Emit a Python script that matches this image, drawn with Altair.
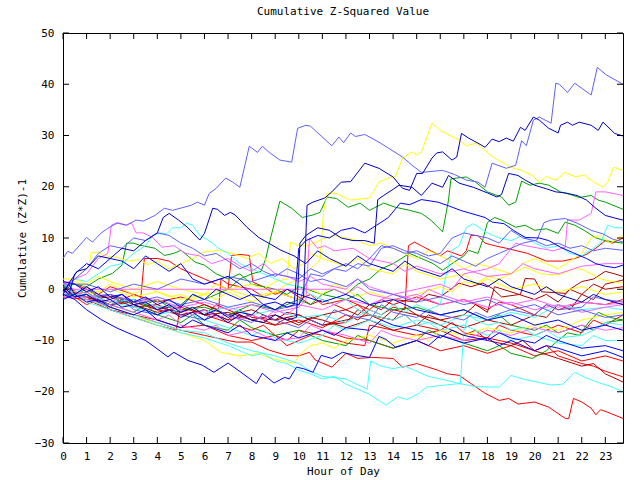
import altair as alt
import pandas as pd

# ---------------- data (hour, cumulative value) -------------
A = [(0,6),(0.2,7.4),(0.4,7),(1.0,10.1),(1.25,9.2),(1.6,10.9),(1.9,11.9),(2.3,12.9),(2.7,12.5),(3.1,13.5),(3.4,13.3),
     (3.9,14.4),(4.3,15.8),(4.65,15.4),(5.45,16.4),(5.7,17),(6.0,16.4),(6.2,18.7),(6.5,19.7),(6.9,21.7),(7.2,20.9),
     (7.5,19.9),(7.9,27.9),(8.25,26.7),(8.45,27.9),(8.75,26.7),(9.2,25.2),(9.7,24.8),(9.95,31.4),(10.3,32),(10.5,31.8),
     (11.4,28),(11.7,29.7),(11.9,28.6),(12.2,30.5),(12.4,29.8),(12.8,30.2),(13.4,28.7),(14.4,25.8),(14.8,24.2),
     (15.2,22.8),(16.1,23.2),(16.6,22.4),(17.1,21.3),(17.6,20.9),(17.9,19.9),(18.2,24.6),(18.8,23.6),(19.2,24.2),
     (19.45,29),(19.65,28),(19.95,33),(20.2,33.6),(20.7,32.4),(20.9,40.2),(21.05,40),(21.4,38.4),(21.7,40.2),
     (22.4,37.9),(22.66,43.3),(23.05,41.8),(23.75,40)]
B = [(0,-0.5),(0.25,1),(0.5,-1),(1,0.5),(1.5,-1),(2,-2),(2.5,-1),(3,-3),(3.5,-2.5),(4,-4),(4.5,-3),(5,-4.5),(5.5,-3.5),
     (6,-5),(6.5,-4),(7,-5.5),(7.5,-4.5),(8,-5),(8.5,-3),(9,-4),(9.5,-2.5),(10,-3),(10.2,-1.6),(10.35,16.4),(10.6,17),
     (11.1,17.8),(11.4,19),(11.8,20.9),(12.2,21),(12.8,24.6),(13.4,23.6),(14,21.9),(14.4,19.7),(14.7,19.3),(15,22.6),
     (15.25,22.6),(15.65,25.6),(15.85,26.6),(16.1,26.8),(16.5,25.2),(16.7,25.8),(16.9,30.4),(17.2,29.5),(17.6,28.5),
     (17.9,27.7),(18.2,29.3),(18.5,28.8),(18.8,29.5),(19.1,28.9),(19.4,31.6),(19.6,31),(19.95,33.6),(20.2,33),
     (20.6,31.4),(21.0,30.5),(21.1,32),(21.4,32.6),(21.6,32),(21.9,32.6),(22.4,32),(22.7,31),(22.9,32.6),(23.4,30.4),
     (23.75,29.9)]
C = [(0,1),(0.5,1.5),(1,0.5),(1.5,-0.5),(2,1),(2.5,0),(3,-1),(3.5,0.5),(4,-0.5),(4.5,-1.5),(5,-1),(5.5,-2),(6,-1),
     (6.5,-2),(7,-0.5),(7.5,-1.5),(8,-2.5),(8.5,-1.5),(9,-0.5),(9.5,1),(10,2),(10.5,4),(10.9,5.7),(11.05,15),
     (11.2,18.7),(11.6,18.7),(12.2,17.4),(13.0,17.8),(13.4,20.9),(13.8,21.7),(14.1,22),(14.4,25.6),(14.8,26.8),
     (15.0,26.2),(15.2,26.8),(15.65,32.4),(16.0,31),(16.85,29),(17.1,28),(17.5,28.5),(18.3,25.6),(19.0,23.8),
     (19.45,23.2),(19.9,22.2),(20.2,20.9),(20.5,22),(20.9,21.3),(21.3,22.8),(21.7,22),(22.1,22.2),(22.6,20.7),
     (22.9,19.9),(23.1,20.9),(23.35,23.8),(23.75,23.2)]
D = [(0,-1),(0.5,-1),(1,0),(1.5,-1.5),(2,-1),(2.5,-2.5),(3,-2),(3.5,-3),(4,-2),(4.5,-3.5),(5,-3),(5.5,-1),(6,-2),
     (6.5,-1),(7,0),(7.5,2),(8,3),(8.4,3.5),(8.6,6),(8.75,9),(9.2,17.2),(9.7,15.8),(10.15,14),(10.6,14.5),(10.9,15),
     (11.2,18),(11.6,17.7),(12.1,16),(12.6,16.8),(13,15.4),(13.6,16.8),(14.1,16),(14.7,15.4),(15.2,14.8),(15.6,13.5),
     (16.1,11.2),(16.35,17.4),(16.45,21.5),(16.7,21.7),(17.1,21.9),(17.5,20.9),(18.0,19),(18.6,18),(18.9,16.4),
     (19.2,17),(19.45,21.1),(19.8,20.3),(20.2,20.7),(20.6,20.3),(21.1,19),(21.5,18.5),(21.9,17.9),(22.4,18.3),
     (22.7,17.4),(23.0,17),(23.75,15.6)]
E = [(0,-1),(0.3,1.5),(0.6,3.5),(1,4),(1.5,6.5),(2,6),(2.5,8),(3,7.5),(3.5,9.5),(4,11),(4.25,14),(4.5,14.8),
     (4.9,13.5),(5.3,12),(5.8,9.6),(6.0,10.9),(6.35,15.8),(6.55,15.6),(6.85,14.4),(7.1,15),(7.3,14.5),(7.8,12.1),
     (8.3,10.1),(9.25,7.6),(9.8,6.5),(10.3,5),(10.8,7.5),(11.3,6),(12,4.5),(12.5,6.5),(13,5),(14,3.5),(14.5,5.5),
     (15,4),(16,2.5),(16.5,4),(17,2),(18,0.5),(18.5,2),(19,0.5),(20,-1),(20.5,0.5),(21,-1),(22,-2.5),(22.5,-1),
     (23,-2),(23.75,-3)]
F = [(0,0.5),(0.5,-1.5),(1,-1),(1.5,-2.5),(2,-2),(2.5,-3.5),(3,-3),(3.5,-4),(4,-5),(4.5,-4),(5,-5.5),(5.5,-4.5),
     (6,-6),(6.5,-5),(7,-6.5),(7.5,-5),(8,-6),(8.5,-6.5),(9,-5),(9.5,-6),(9.9,-5.5),(10.05,9),(10.3,10.5),(10.8,12),
     (11.3,11.5),(11.8,10),(12.3,9.5),(12.8,9.5),(13.2,9),(13.35,17.5),(13.6,18.3),(14,19.5),(14.25,20.3),(14.8,19.9),
     (15.2,18.3),(15.65,20.7),(16.1,19.9),(16.35,22.2),(16.8,20.7),(17.4,19.9),(18,18.8),(18.4,18),(18.6,18.5),
     (18.9,22.6),(19.3,22.2),(19.6,21.3),(20,20.3),(20.5,19.6),(20.9,19),(21.3,18.8),(21.8,18.3),(22.2,17.4),
     (22.6,15.8),(23,14.4),(23.4,13.9),(23.75,13.5)]
G = [(0,1.5),(0.5,1),(1,-0.5),(1.5,0.5),(2,-1.5),(2.5,-1),(3,-2.5),(3.5,-1.5),(4,-3),(4.5,-2),(5,-3.5),(5.5,-1),
     (6,-2),(6.5,0),(7,-1),(7.5,-2),(8,-1),(8.5,-3),(9,-2.5),(9.5,-3.5),(9.8,-3),(10.0,8),(10.3,9.5),(10.8,10.5),
     (11.3,10),(11.8,11.5),(12.3,12),(12.8,11),(13.3,12.5),(13.8,14),(14.3,16.8),(14.7,16.5),(15.2,17.5),(15.9,17),
     (16.4,16.2),(16.85,15.4),(17.3,14.8),(17.9,14),(18.2,13.1),(18.7,12.8),(19.1,11.5),(19.6,10.1),(20.2,10),
     (20.6,9.5),(21.1,8.2),(21.6,7.2),(22.2,6),(22.6,5),(23,4.5),(23.4,4.2),(23.75,4.7)]
H = [(0,-0.5),(0.5,-1),(1,-0.5),(1.5,-2),(2,-2.5),(2.5,-1.5),(3,-3),(3.5,-2.5),(4,-4),(4.5,-3),(5,-4),(5.5,-5),
     (6,-4),(6.5,-5.5),(7,-5),(7.5,-6),(8,-5),(8.5,-6),(9,-4),(9.5,-5),(10,-3),(11,-4),(12,-2),(13,-3),(14,-1),
     (15,0),(16,1),(16.5,0),(17,3),(18,4),(18.5,5),(19.2,9),(19.6,8.5),(20.2,8),(20.8,7.5),(21.3,8.2),(21.4,13.5),
     (21.9,13.5),(22.4,14.8),(22.6,19),(23,19),(23.75,18.3)]
P2 = [(0,1),(0.5,2),(1,3),(1.5,6),(1.9,7),(2.05,12.5),(2.3,13),(2.7,12.5),(2.9,13),(3.1,11),(3.4,11),(3.8,10.1),
      (4.2,8.2),(4.7,8.5),(5.2,7),(5.8,6.5),(6.3,5),(7,6),(7.5,4.5),(8,3.5),(8.5,5),(9,3),(9.5,2.5),(10,1.5),
      (10.5,2.5),(11,1),(12,0),(12.5,2),(13,0.5),(14,-1),(15,-2),(15.5,0),(16,-1),(17,-2.5),(18,-1.5),(19,-3),
      (20,-2),(21,-3.5),(22,-2.5),(23,-3),(23.75,-2.7)]
P3 = [(0,-1.5),(1,-1.5),(2,-1),(3,-2.5),(4,-2),(5,-3.5),(6,-2.5),(7,-4),(8,-3),(9,-4.5),(10,-3.5),(10.3,-2),
      (10.45,9.9),(10.8,8),(11.1,8.5),(11.5,7.5),(12.3,8),(13,6),(14,5),(14.5,3.5),(15,4.5),(16,3),(17,4),(18,2.5),
      (19,3),(19.5,5),(20,4),(21,3),(22,4.5),(23,5),(23.75,5)]
MF = [(0,0),(11.5,0),(12,-1),(12.5,0.5),(13,-1),(14,-2),(15,-1),(16,-3),(17,-2),(18,-3.5),(19,-2.5),(20,-4),
      (21,-3),(22,-4.5),(23,-3.5),(23.75,-3)]
BB = [(0,-1),(0.5,-2),(1,-4),(1.65,-6),(2.3,-7.6),(3,-9),(3.5,-10),(3.9,-11.3),(4.45,-13.2),(4.7,-12.3),(5.3,-13.9),
      (5.9,-14.8),(6.4,-16.2),(7,-14.4),(7.55,-16.2),(7.9,-17.4),(8.2,-18.4),(8.45,-16.4),(8.95,-18.3),(9.4,-17.2),
      (9.6,-17.5),(9.9,-15.2),(10.2,-15.5),(10.6,-16.2),(10.95,-12.9),(11.4,-13.5),(11.85,-12.3),(12.3,-12.8),
      (13,-13.3),(13.4,-9.2),(13.7,-9.8),(14.1,-11.3),(15,-10),(15.5,-11),(16,-9),(17,-10.5),(18,-9.5),(18.5,-11),
      (19,-10),(20,-12),(20.5,-11),(21,-11.5),(22,-13),(23,-12),(23.75,-13.3)]
CB = [(0,0.5),(1,-2.5),(2,-4),(3,-5.5),(4,-7),(5,-8.5),(6,-9.5),(7,-11),(8,-13),(8.5,-12.5),(9,-14),(9.5,-14.5),
      (10,-15.8),(10.5,-16.5),(11,-17.5),(11.5,-17),(12,-18.5),(12.5,-19.5),(13.0,-20.5),(13.7,-22.6),(14.2,-21),
      (14.6,-21.5),(15.1,-20.3),(15.4,-19.1),(16,-18.8),(16.8,-18.4),(17.5,-19),(18.5,-19.1),(19,-16.8),(19.5,-17.5),
      (20.2,-18.2),(20.7,-18.7),(21.2,-18.5),(21.7,-16.2),(22.2,-17.3),(22.7,-18.2),(23.2,-18.9),(23.75,-20)]
CC = [(0,-0.5),(1,-2),(2,-3.5),(3,-5),(4,-6.5),(5,-8),(6,-8.5),(7,-10.5),(8,-12),(9,-13),(10,-14.5),(10.5,-16),
      (11,-17),(12,-17.5),(12.9,-19.5),(13.05,-14),(13.5,-15),(14,-15.5),(14.5,-15),(15,-16),(15.5,-17),(16,-17.5),
      (16.5,-18),(16.85,-18.5),(17.0,-8),(17.2,-5),(17.5,-6),(18,-7),(18.5,-6.5),(19,-8),(19.5,-7.5),(20,-9),
      (20.5,-8),(21,-9.5),(22,-9),(22.5,-8),(23,-6.5),(23.75,-7)]
CD = [(0,1),(1,-1),(2,-2.5),(3,-2),(4,-3.5),(5,-3),(6,-4.5),(7,-3.5),(8,-5),(9,-4),(10,-5.5),(11,-5),(12,-6.5),
      (13,-4),(13.5,-5),(14,-3),(14.5,-4.5),(15,-3),(15.5,-4),(16,-3),(16.2,1.8),(16.5,7.6),(16.8,8.5),(17.1,12),
      (17.4,12.8),(18,11),(18.5,10),(19,9.5),(19.5,10.5),(20,9),(20.5,8),(21,8.5),(21.5,7),(22,6.5),(22.5,8),
      (22.8,9),(23.1,12.5),(23.4,12),(23.75,12)]
CE = [(0,0),(0.5,2),(1,1.5),(1.5,3),(2,4.5),(2.5,5),(3,7),(3.5,8.5),(3.8,10.5),(4.1,11),(4.4,10.8),(4.65,12),
      (5,12),(5.25,12.9),(5.5,12.5),(5.8,10.5),(6.2,9.5),(6.6,8),(7,7),(7.5,5),(8,4),(8.5,3),(9,2),(9.5,1),(10,0.5),
      (10.5,-1),(11,-2),(11.5,-3),(12,-2),(12.5,-4),(13,-5),(14,-6),(14.5,-5),(15,-7),(15.5,-6.5),(16,-8),(17,-7),
      (18,-9),(18.5,-8),(19,-10),(20,-9),(21,-10.5),(22,-11),(22.5,-9),(23,-10),(23.75,-10)]
CF = [(0,-1),(1,-1),(2,-2.5),(3,-3.5),(4,-5),(5,-4),(6,-6),(7,-7.5),(8,-9),(8.5,-8),(9,-9.5),(10,-10.5),(11,-9),
      (11.5,-7),(12,-8),(13,-6),(14,-7.5),(15,-6),(16,-7),(17,-5),(18,-6),(19,-4.5),(20,-5.5),(21,-3),(22,-4),
      (23,-3.5),(23.75,-4)]
RB = [(0,-0.5),(1,-2),(2,-4),(3,-5),(4,-6.5),(5,-8),(6,-9),(7,-10),(7.35,-10.3),(8,-10.3),(8.75,-11.9),(9.5,-12.9),
      (10,-13),(10.45,-12.3),(10.7,-13.8),(11.4,-15.2),(12,-12.5),(12.5,-13.5),(13.1,-13.3),(14,-13.5),(14.4,-15.2),
      (15,-14.5),(15.9,-15.8),(16.3,-16.5),(16.8,-16.8),(17.3,-18.4),(17.9,-20.3),(18.5,-21.7),(18.9,-21.3),
      (19.3,-22.4),(20,-22),(20.6,-23),(21.3,-25.2),(21.45,-25.2),(21.65,-21.3),(22,-22),(22.4,-23.2),(22.6,-24.5),
      (22.8,-23.5),(23.1,-24),(23.75,-25.2)]
R4 = [(0,0.5),(1,-1.5),(2,-3),(3,-2),(4,-4),(5,-5),(6,-4),(7,-6),(8,-5),(9,-7),(10,-6),(11,-7.5),(12,-5),(12.5,-6),
      (13,-4),(13.5,-5),(14,-3.5),(14.5,-4),(14.65,8.5),(14.9,9.2),(15.2,8.5),(15.6,7.5),(16,6.5),(16.3,7.5),
      (16.6,7),(16.9,6.5),(17.1,7.5),(17.3,10.5),(17.6,10.5),(17.9,9),(18.3,8.5),(18.8,8),(19.7,7),(20.5,5.5),
      (21.2,5.5),(21.7,6),(22.2,6.8),(22.6,8),(23,9.5),(23.3,9),(23.75,10)]
R5 = [(0,-1),(0.5,-1),(1,-0.5),(1.5,-2),(2,-1),(2.5,-2),(3,-1),(3.3,-1.6),(3.45,6),(4,6),(4.5,5.5),(5,4),(5.5,3),
      (6,2),(6.5,1),(7,0),(7.15,6.6),(7.5,6.8),(7.9,6.6),(8.05,1.4),(8.5,0.5),(9,-1),(9.5,0),(10,-1.5),(10.5,-3),
      (11,-2),(12,-4),(12.5,-3),(13,-5),(14,-6),(14.5,-5),(15,-7),(16,-8),(16.5,-6.5),(17,-8.5),(18,-9.5),
      (19,-10.5),(20,-12),(20.5,-11),(21,-13),(22,-14.5),(22.5,-15),(23,-16),(23.75,-17.1)]
R6 = [(0,1.5),(0.5,1),(1,0),(1.5,-1),(2,0.5),(3,-1),(4,-2.5),(5,-1.5),(6,-3),(6.6,-4),(6.7,2),(7,1),(8,0),
      (8.5,-1.5),(9,-0.5),(10,-2),(10.5,-1),(11,-3),(12,-2),(13,-4),(13.5,-2),(14,-3),(15,-1.5),(16,-3),(17,-2),
      (18,-4),(18.5,-2.5),(19,-3),(20,-5),(20.5,-3),(21,-4),(22,-2.5),(23,-3),(23.75,-2)]
R7 = [(0,-1.5),(1,-2),(2,-3.5),(3,-5),(4,-6),(5,-7.5),(6,-7),(7,-9),(8,-10),(9,-9),(9.5,-11),(10,-10),(11,-8),
      (12,-9.5),(13,-10),(14,-11.5),(15,-10),(16,-12),(17,-11),(18,-12.5),(19,-11),(20,-13),(21,-12),(22,-14),
      (23,-13),(23.75,-14)]
R8 = [(0,0),(0.5,-1.5),(1,-3),(1.5,-2),(2,-4),(3,-5.5),(4,-7),(4.8,-8),(5,-3),(5.5,-4),(6,-5),(7,-6.5),(8,-8),
      (8.5,-7),(9,-9),(9.5,-10),(10,-8),(11,-9),(12,-10.5),(12.8,-11),(13,-7),(14,-8),(15,-9),(16,-8),(17,-10),
      (18,-9.5),(18.5,-7),(19,-8),(20,-9),(21,-7),(22,-8.5),(22.5,-6),(23,-7),(23.75,-5)]
DR1 = [(0,1),(1,-2),(2,-1.5),(3,-3.5),(4,-3),(5,-5),(6,-4),(7,-6),(7.5,-4),(8,-5.5),(9,-6),(9.5,-4.5),(10,-5),
       (11,-7),(12,-6),(13,-5),(13.5,-6),(14,-4),(15,-5),(16,-7),(17,-9),(17.5,-8),(18,-10),(19,-11),(19.5,-10),
       (20,-12),(21,-13.5),(22,-15),(22.5,-14.5),(23,-16.5),(23.75,-18.1)]
DR2 = [(0,-0.5),(1,-1),(2,-2.5),(3,-2),(4,-3.5),(5,-4.5),(6,-3),(7,-5),(8,-4),(9,-6),(10,-5),(11,-7),(12,-6.5),
       (12.5,-4),(13,-5),(14,-6),(14.5,-3.5),(15,-5),(16,-6),(17,-5),(17.5,-3),(18,-4.5),(18.3,0.5),(19,-0.5),
       (20,-2),(20.5,-1),(21,-2.5),(21.5,0),(22,-1),(22.5,1),(23,0),(23.75,0.5)]
DR3 = [(0,0.5),(1,-2),(2,-1),(3,-3),(4,-4.5),(5,-3.5),(6,-5),(6.5,-3),(7,-4),(8,-6),(9,-5),(10,-7),(10.5,-5.5),
       (11,-6),(12,-7.5),(13,-6),(14,-8),(15,-7),(15.5,-5),(16,-6),(17,-7.5),(18,-6),(19,-7),(20,-5),(20.5,-5.5),
       (21,-3),(21.5,-4),(22,-1),(22.5,-2),(23,1),(23.75,1.8)]
DR4 = [(0,-1),(1,-1.5),(2,-3),(3,-2.5),(4,-4),(5,-3),(6,-5),(7,-4.5),(8,-6),(9,-7),(9.5,-5.5),(10,-6.5),(11,-5),
       (12,-4),(12.5,-5),(13,-3),(13.5,-4),(14,-2),(15,-2.5),(15.5,-1),(16,-1.5),(16.8,1.2),(17.3,0.5),(17.8,1.2),
       (18.2,0.2),(18.6,-1.5),(19.4,-1),(19.6,2.1),(20,2),(20.3,-0.5),(21.3,-0.8),(21.5,0),(22,1.5),(22.5,2),
       (23,3.5),(23.4,3),(23.75,2.5)]
G2 = [(0,0.5),(0.5,1),(1,0.5),(1.5,2),(2.1,3.1),(2.5,4.7),(2.7,9),(3,9),(3.25,8.6),(3.9,8),(4.3,6.6),(4.7,7),(5,7.6),
      (5.3,6.5),(5.6,5.3),(6,4.7),(6.5,3),(7,2),(7.5,3),(8,1),(9,0),(9.5,-1),(10,0.5),(11,-1),(12,-2),(12.5,-1),
      (13,-3),(14,-4),(15,-3.5),(16,-5),(17,-4),(18,-6),(18.5,-5),(19,-7),(20,-8),(20.5,-7),(21,-8.5),(22,-7),
      (22.5,-8),(23,-6.5),(23.75,-6)]
G3 = [(0,-0.5),(1,-1.5),(2,-1),(3,-3),(4,-2),(5,-4),(6,-3.5),(7,-5),(8,-3),(9,-4),(10,-2),(10.5,-3),(11,-1),(11.5,0),
      (12,-1),(12.5,1),(13,2),(13.5,4),(14,5),(14.7,7),(15.2,6),(15.7,5),(16.1,3.7),(16.5,5),(17,6.5),(17.2,7.6),
      (17.6,7),(17.8,9.6),(18,13),(18.3,14),(18.6,13.5),(19.2,12.1),(19.6,12.5),(20,11.5),(20.5,11.8),(21,10.9),
      (21.3,13.1),(21.7,12.5),(22.1,11.5),(22.6,10),(23,9.5),(23.4,9.2),(23.75,9)]
G4 = [(0,-1),(0.5,-1.5),(1,-1),(2,-3),(3,-4.5),(3.5,-3),(4,-5),(5,-6.5),(5.5,-5),(6,-7),(7,-8),(7.5,-6),(8,-7.5),
      (9,-9),(10,-8),(11,-10),(12,-11),(12.5,-9),(13,-10),(14,-11.5),(15,-10),(15.5,-8),(16,-9),(17,-10.5),
      (18,-12),(18.5,-11),(19,-12.5),(19.9,-13.5),(20.5,-12),(21,-10),(21.4,-8.5),(21.9,-9),(22.3,-6.4),
      (22.7,-4.5),(23.2,-5.5),(23.75,-6)]
Y2 = [(0,-0.5),(0.5,-1),(1,-2),(2,-3.5),(3,-5),(4,-7),(5,-8.5),(6,-10),(6.7,-12.3),(7.5,-13),(8.3,-12.5),(8.8,-13.5),
      (9.8,-14.4),(10.1,-12.5),(10.5,-11),(11,-10.5),(11.5,-11.5),(12,-10),(13,-9),(14,-10.5),(15,-9),(15.5,-10),
      (16,-8),(17,-9),(18,-7.5),(19,-8.5),(20,-7),(21,-8),(22,-6),(23,-5),(23.75,-4.5)]
Y3 = [(0,2),(0.5,2),(1,1),(1.5,2.5),(2,1.5),(3,0),(4,1.5),(5,0),(6,-1),(6.5,1),(7,0),(8,-1.5),(9,-0.5),(10,-2),
      (10.5,0),(11,-1),(11.5,1),(12,0),(12.5,-1.5),(13,-0.5),(14,-2),(15,-1),(16,0.5),(16.5,-0.5),(17,1.5),(17.5,1),
      (18,2.5),(18.5,2),(19,3),(19.6,4.3),(20.3,3),(21,2.8),(21.8,4.2),(22.2,3.5),(22.8,2),(23.3,1.5),(23.75,1.2)]
Y4 = [(0,1),(0.5,2),(1.1,4.5),(1.2,7.2),(1.5,7.2),(1.7,6.6),(2.3,6.2),(2.8,5.5),(3.2,5.8),(3.6,4.8),(4,5.5),(4.5,4),
      (5,5),(5.5,6),(5.9,7.2),(6.6,7.6),(7.2,7),(7.8,6),(8.3,7),(8.8,5),(9.3,6),(9.8,4),(10.2,5),(10.5,7),(11,6),
      (12,4.5),(12.5,6),(13,4),(14,3),(14.5,5),(15,3.5),(16,2),(17,3),(17.5,1),(18,2),(19,0),(20,1),(21,-0.5),
      (22,0.5),(23,-1),(23.75,-0.5)]
Y5 = [(0,0),(1,-1),(2,0),(3,-1.5),(4,-0.5),(5,-2),(6,-1),(7,0),(8,1),(8.5,0),(9,1.5),(9.5,2),(9.65,9.2),(10,8.5),
      (10.4,8.5),(11,9.8),(11.5,10.5),(12,10),(12.5,9.5),(13,8.5),(13.5,9),(14,8),(14.5,7),(15,6),(15.5,7.5),
      (16,6.5),(16.5,5.5),(17,4),(17.5,5),(18,4.5),(19,3),(19.5,5),(20,6),(20.5,5),(21,4),(21.5,5.5),(22,7),
      (22.4,10),(22.8,10.5),(23.2,9),(23.75,10.5)]
LB2 = [(0,-1),(0.5,-1),(1,0.5),(1.5,-1.5),(2,-1),(3,-2.5),(4,-1.5),(5,-3),(6,-2),(7,-3.5),(8,-2.5),(9,-4),(10,-3),
       (10.2,0),(10.5,3),(11,2.5),(11.5,4),(12,3.5),(12.5,5),(13,4.5),(13.5,8),(14,8.5),(14.5,7.5),(15,7),(15.5,6),
       (16,5),(16.5,6.5),(17,5.5),(17.5,4.5),(18,6),(18.5,7),(19,8),(19.5,9),(20.1,9.6),(20.4,13),(20.7,13.5),
       (21.3,13.8),(21.8,12.9),(22.4,11.5),(22.9,10.8),(23.3,9.8),(23.75,9.2)]
LB3 = [(0,0.5),(0.5,-1.5),(1,-1),(1.5,-2.5),(2,-3.5),(2.5,-2),(3,-4),(4,-5),(4.5,-3.5),(5,-5),(6,-6),(6.5,-4),(7,-5),
       (8,-6.5),(8.5,-5),(9,-6),(10,-7.5),(10.5,-6),(11,-7),(11.5,-4),(12,-5),(13,-6),(13.5,-3),(14,-4.5),
       (15,-5.5),(15.5,-4),(16,-5),(17,-6),(17.5,-4.5),(18,-5.5),(19,-4),(20,-5),(20.5,-3),(21,-4),(22,-3.5),
       (22.5,-1.5),(23,-2),(23.75,-2.5)]
LB4 = [(0,1),(1,1),(2,-0.5),(3,1),(4,0),(5,2),(6,1),(7,2.5),(8,1.5),(9,3),(10,2),(10.5,4),(11,3),(12,5),(12.5,4),
       (13,6),(13.5,8.5),(14,8),(14.5,7),(15,7.5),(15.5,6.5),(16,7),(16.5,10),(17,11),(17.5,10.5),(18,10),
       (18.5,9),(19,11.5),(19.5,10),(20,9.5),(20.5,8.5),(21,9),(21.5,8),(22,8.5),(22.5,7.5),(23,8),(23.75,7.6)]
LB5 = [(0,0),(0.5,2),(1,4),(1.5,7),(2,8.5),(2.5,8),(3,10),(3.5,9.5),(4,11),(4.5,10.5),(5,9),(5.5,8),(6,6.5),
       (6.5,7),(7,5.5),(7.5,4),(8,5),(8.5,3.5),(9,2.5),(9.5,4),(10,3),(10.5,1.5),(11,2),(12,0.5),(12.5,2),(13,0),
       (14,-1),(15,-2.5),(16,-1.5),(17,-3),(18,-2),(19,-4),(20,-3),(21,-5),(22,-4),(23,-5.5),(23.75,-5)]
BL2 = [(0,-2),(0.5,-1),(1,-2.5),(1.5,-2),(2,-3.5),(3,-5),(3.5,-4),(4,-6),(5,-7.5),(5.5,-6),(6,-7),(7,-8.5),
       (7.5,-7),(8,-9),(9,-10),(9.5,-8.5),(10,-9.5),(11,-8),(11.5,-9),(12,-7.5),(13,-8),(13.5,-6),(14,-7),(15,-8),
       (16,-9.5),(16.5,-8),(17,-9),(18,-10),(18.5,-8.5),(19,-9.5),(20,-10.5),(20.5,-9),(21,-10),(22,-11.5),
       (23,-11),(23.75,-12)]
BL3 = [(0,0),(0.25,-1),(0.5,3),(1,5),(1.5,4),(2,6),(2.5,5.5),(3,4),(3.5,6.5),(4,5),(4.5,3.5),(5,5),(5.5,2),(6,1),
       (7,2.5),(7.5,1),(8,-1),(9,-2),(9.5,0),(10,-1),(11,-2.5),(12,-1),(13,-3),(14,-2),(15,-4),(16,-5),(17,-4),
       (18,-6),(19,-5),(20,-7),(21,-6),(22,-8),(23,-7),(23.75,-8)]
M5 = [(0,1.5),(1,-2),(2,-3),(3,-4.5),(4,-6),(4.5,-5),(5,-7),(6,-8),(6.5,-7),(7,-9),(8,-8),(9,-10),(10,-9.5),
      (10.5,-7),(11,-8),(12,-9),(13,-10.5),(13.5,-8),(14,-9),(15,-10),(16,-9),(17,-10),(18,-8),(19,-9),(20,-7.5),
      (21,-8.5),(22,-7),(23,-8),(23.75,-7.5)]

# colours of the reference palette
LIGHTBLUE = "#6060ff"
DARKBLUE = "#0000c0"
BLUE = "#0000ff"
RED = "#ff0000"
DARKRED = "#b00000"
GREEN = "#00a000"
YELLOW = "#ffff00"
CYAN = "#40ffff"
MAGENTA = "#ff60ff"

SERIES = [
    ("RB", RED, RB), ("R4", RED, R4), ("R5", RED, R5), ("R6", RED, R6), ("R7", RED, R7), ("R8", RED, R8),
    ("DR1", DARKRED, DR1), ("DR2", DARKRED, DR2), ("DR3", DARKRED, DR3), ("DR4", DARKRED, DR4),
    ("D", GREEN, D), ("G2", GREEN, G2), ("G3", GREEN, G3), ("G4", GREEN, G4),
    ("C", YELLOW, C), ("Y2", YELLOW, Y2), ("Y3", YELLOW, Y3), ("Y4", YELLOW, Y4), ("Y5", YELLOW, Y5),
    ("CB", CYAN, CB), ("CC", CYAN, CC), ("CD", CYAN, CD), ("CE", CYAN, CE), ("CF", CYAN, CF),
    ("H", MAGENTA, H), ("P2", MAGENTA, P2), ("P3", MAGENTA, P3), ("MF", MAGENTA, MF), ("M5", MAGENTA, M5),
    ("A", LIGHTBLUE, A), ("LB2", LIGHTBLUE, LB2), ("LB3", LIGHTBLUE, LB3), ("LB4", LIGHTBLUE, LB4),
    ("LB5", LIGHTBLUE, LB5),
    ("G", BLUE, G), ("BB", BLUE, BB), ("BL2", BLUE, BL2), ("BL3", BLUE, BL3),
    ("B", DARKBLUE, B), ("E", DARKBLUE, E), ("F", DARKBLUE, F),
]

X_TICKS = list(range(0, 24))
Y_TICKS = [-30, -20, -10, 0, 10, 20, 30, 40, 50]
X_DOMAIN = [0, 23.75]
Y_DOMAIN = [-30, 50]

rows = []
for k, (name, color, pts) in enumerate(SERIES):
    for i, (h, v) in enumerate(pts):
        rows.append({"series": name, "color": color, "hour": h, "value": v, "idx": i})
df = pd.DataFrame(rows)

W, H_ = 560, 410
FONT = "DejaVu Sans Mono"

xs = alt.Scale(domain=X_DOMAIN, nice=False, zero=False)
ys = alt.Scale(domain=Y_DOMAIN, nice=False, zero=False)
AX_STYLE = dict(domain=False, ticks=False, grid=False, labelFont=FONT, labelFontSize=11, labelColor="black",
                titleFont=FONT, titleFontSize=11, titleFontWeight="normal", titleColor="black")
x_axis = alt.Axis(values=X_TICKS, format="d", labelPadding=7, titlePadding=4, labelFlush=False, **AX_STYLE)
y_axis = alt.Axis(values=Y_TICKS, format="d", labelPadding=9, titlePadding=7, **AX_STYLE)
X_TITLE = "Hour of Day"
Y_TITLE = "Cumulative (Z*Z)-1"

lines = alt.Chart(df).mark_line(strokeWidth=1, interpolate="linear").encode(
    x=alt.X("hour:Q", scale=xs, title=X_TITLE, axis=x_axis),
    y=alt.Y("value:Q", scale=ys, title=Y_TITLE, axis=y_axis),
    color=alt.Color("color:N", scale=None),
    detail="series:N",
    order="idx:Q",
)

xt = pd.DataFrame({"t": X_TICKS})
yt = pd.DataFrame({"t": Y_TICKS})
TL = 6
tick_b = alt.Chart(xt).mark_rule(color="black", strokeWidth=1).encode(
    x=alt.X("t:Q", scale=xs, title=X_TITLE, axis=x_axis), y=alt.value(H_), y2=alt.value(H_ - TL))
tick_t = alt.Chart(xt).mark_rule(color="black", strokeWidth=1).encode(
    x=alt.X("t:Q", scale=xs, title=X_TITLE, axis=x_axis), y=alt.value(0), y2=alt.value(TL))
tick_l = alt.Chart(yt).mark_rule(color="black", strokeWidth=1).encode(
    y=alt.Y("t:Q", scale=ys, title=Y_TITLE, axis=y_axis), x=alt.value(0), x2=alt.value(TL))
tick_r = alt.Chart(yt).mark_rule(color="black", strokeWidth=1).encode(
    y=alt.Y("t:Q", scale=ys, title=Y_TITLE, axis=y_axis), x=alt.value(W), x2=alt.value(W - TL))

chart = alt.layer(lines, tick_b, tick_t, tick_l, tick_r).properties(
    width=W, height=H_,
    background="white",
    autosize=alt.AutoSizeParams(type="none"),
    padding={"left": 63, "top": 33, "right": 17, "bottom": 37},
    title=alt.TitleParams("Cumulative Z-Squared Value", font=FONT, fontSize=11, fontWeight="normal",
                          color="black", offset=10, anchor="middle"),
).configure_view(stroke="black", strokeWidth=1).configure_axis(
    domain=False, ticks=False, grid=False,
    labelFont=FONT, labelFontSize=11, labelColor="black",
    titleFont=FONT, titleFontSize=11, titleFontWeight="normal", titleColor="black",
)

chart.save("out.html", embed_options={"renderer": "svg", "actions": False})
